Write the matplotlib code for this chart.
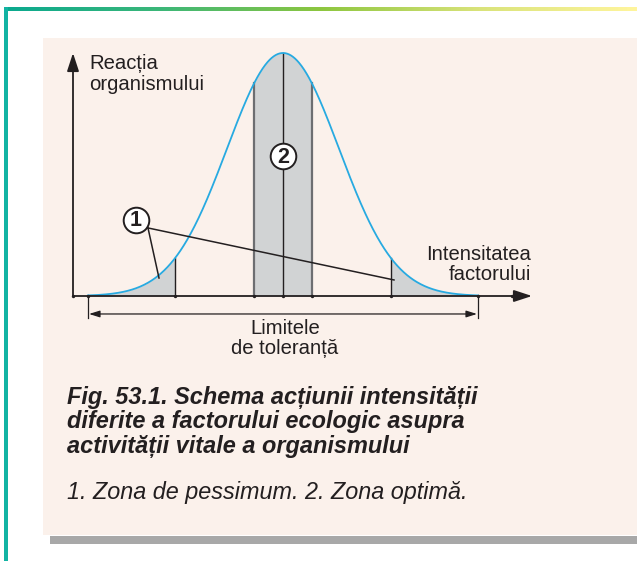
import numpy as np
import matplotlib
matplotlib.use("Agg")
import matplotlib.pyplot as plt
from matplotlib.patches import Rectangle
from matplotlib.colors import LinearSegmentedColormap

# ---------------- data (schematic) ----------------
optimum_center = 21.0          # factor intensity at the optimum
curve_width = 5.6              # spread of the tolerance curve
peak_reaction = 1.0
tolerance_limits = [1.5, 40.5]       # limits of tolerance
pessimum_left = [1.5, 10.2]          # zone 1 (left)
pessimum_right = [31.8, 40.5]        # zone 1 (right)
optimum_zone = [18.1, 23.9]          # zone 2
axis_ticks = [0.0, 1.5, 10.2, 18.1, 21.0, 23.9, 31.8, 40.5, 43.9]

y_label = ["Reacția", "organismului"]
x_label = ["Intensitatea", "factorului"]
tol_label = ["Limitele", "de toleranță"]
caption_bold = ["Fig. 53.1. Schema acțiunii intensității",
                "diferite a factorului ecologic asupra",
                "activității vitale a organismului"]
caption_note = "1. Zona de pessimum. 2. Zona optimă."

# ---------------- style ----------------
INK = "#231f20"
BLUE = "#27aae1"
GREY = "#d1d3d4"
EDGE = "#6d6e71"
FONT = "Liberation Sans"

def reaction(x):
    return peak_reaction * np.exp(-(np.asarray(x) - optimum_center) ** 2 / (2 * curve_width ** 2))

W, H = 637, 561
fig = plt.figure(figsize=(W / 100, H / 100), dpi=100)
fig.patch.set_facecolor("white")

# background / frame axes in pixel units
bg = fig.add_axes([0, 0, 1, 1])
bg.set_xlim(0, W)
bg.set_ylim(H, 0)
bg.axis("off")

# beige panel and grey shadow bar
bg.add_patch(Rectangle((43, 38), W - 43, 497, facecolor="#fbf1eb", edgecolor="none", zorder=0))
bg.add_patch(Rectangle((50, 536), W - 50, 8, facecolor="#a8a8a8", edgecolor="none", zorder=0))
# frame: gradient top line + teal left line
cmap = LinearSegmentedColormap.from_list("frame", ["#0aa98f", "#3db778", "#8dc63f", "#d9e37a", "#fff59d"])
grad = np.linspace(0, 1, 256).reshape(1, -1)
bg.imshow(grad, cmap=cmap, aspect="auto", extent=(4, W, 11, 7), zorder=1)
bg.add_patch(Rectangle((4, 7), 3.5, H - 7, facecolor="#12b3a3", edgecolor="none", zorder=1))

# caption
cap_base = [404, 428, 453]
for s, yb in zip(caption_bold, cap_base):
    bg.text(67, yb, s, fontsize=16.9, fontweight="bold", style="italic", color=INK,
            family=FONT, va="baseline", ha="left")
bg.text(67, 499, caption_note, fontsize=16.8, style="italic", color=INK,
        family=FONT, va="baseline", ha="left")

# ---------------- chart axes ----------------
px_l, px_r, px_t, px_b = 63, 545, 40, 320
ax = fig.add_axes([px_l / W, (H - px_b) / H, (px_r - px_l) / W, (px_b - px_t) / H])
ax.set_xlim((px_l - 73) / 10, (px_r - 73) / 10)
ax.set_ylim((296 - px_b) / 243, (296 - px_t) / 243)
ax.axis("off")
ax.patch.set_alpha(0)

# shaded zones
for a, b in (pessimum_left, pessimum_right, optimum_zone):
    xs = np.linspace(a, b, 200)
    ax.fill_between(xs, 0, reaction(xs), color=GREY, lw=0, zorder=1)

# vertical zone borders
for xv in (pessimum_left[1], pessimum_right[0]):
    ax.plot([xv, xv], [0, reaction(xv)], color=INK, lw=1.0, zorder=2)
for xv in optimum_zone:
    ax.plot([xv, xv], [0, reaction(xv)], color=EDGE, lw=1.6, zorder=2)
ax.plot([optimum_center, optimum_center], [0, peak_reaction], color=INK, lw=1.0, zorder=2)

# curve
xc = np.linspace(tolerance_limits[0], tolerance_limits[1], 600)
ax.plot(xc, reaction(xc), color=BLUE, lw=1.3, zorder=3)

# axes with arrows
arrow_kw = dict(arrowstyle="-|>,head_length=1.1,head_width=0.36", color=INK, lw=1.3,
                shrinkA=0, shrinkB=0, mutation_scale=10)
ax.annotate("", xy=(0, 1.0), xytext=(0, 0), arrowprops=arrow_kw, zorder=4)
ax.annotate("", xy=(45.9, 0), xytext=(0, 0), arrowprops=arrow_kw, zorder=4)
ax.scatter(axis_ticks, np.zeros(len(axis_ticks)), s=6, color=INK, zorder=5, lw=0)

# tolerance bracket
for xv in tolerance_limits:
    ax.plot([xv, xv], [0, -0.092], color=INK, lw=0.9, zorder=2)
ax.annotate("", xy=(tolerance_limits[1] - 0.1, -0.074), xytext=(tolerance_limits[0] + 0.1, -0.074),
            arrowprops=dict(arrowstyle="<|-|>,head_length=0.8,head_width=0.25", color=INK, lw=0.9,
                            shrinkA=0, shrinkB=0, mutation_scale=8))

# leader lines for zone 1
c1 = (6.3, 0.313)
ax.plot([7.5, 8.6], [0.28, 0.074], color=INK, lw=1.1, zorder=4)
ax.plot([7.5, 32.1], [0.28, 0.066], color=INK, lw=1.1, zorder=4)

# circled numbers
for (cx, cy), lab in ((c1, "1"), ((optimum_center, 0.576), "2")):
    ax.scatter([cx], [cy], s=340, facecolor="white", edgecolor=INK, lw=1.4, zorder=6)
    ax.text(cx, cy - 0.004, lab, fontsize=15.5, fontweight="bold", color=INK, family=FONT,
            ha="center", va="center", zorder=7)

# axis labels (pixel placement on background axes)
bg.text(89, 69, y_label[0], fontsize=14.6, color=INK, family=FONT, va="baseline", ha="left", zorder=8)
bg.text(89, 90, y_label[1], fontsize=14.6, color=INK, family=FONT, va="baseline", ha="left", zorder=8)
bg.text(531, 260, x_label[0], fontsize=14.6, color=INK, family=FONT, va="baseline", ha="right", zorder=8)
bg.text(531, 280, x_label[1], fontsize=14.6, color=INK, family=FONT, va="baseline", ha="right", zorder=8)
bg.text(285, 334, tol_label[0], fontsize=14.6, color=INK, family=FONT, va="baseline", ha="center", zorder=8)
bg.text(285, 354, tol_label[1], fontsize=14.6, color=INK, family=FONT, va="baseline", ha="center", zorder=8)

fig.savefig("out.png", dpi=100, facecolor="white")
